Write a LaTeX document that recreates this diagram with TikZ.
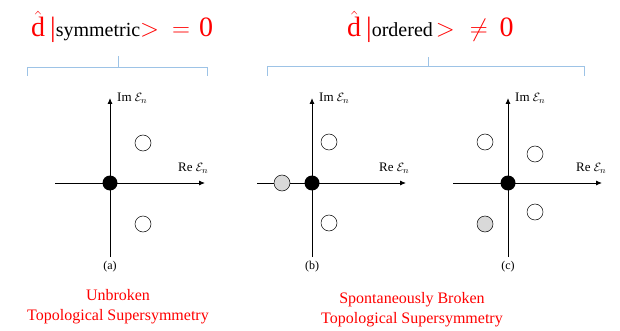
\documentclass[tikz,border=0pt]{standalone}
\usepackage{amsmath,amssymb}
\usepackage{fontspec}
\setmainfont{Liberation Serif}
\newfontfamily\statefamily{Liberation Serif}
\usetikzlibrary{arrows.meta,positioning}
\definecolor{bracketblue}{RGB}{157,195,230}
\definecolor{dotgray}{RGB}{217,217,217}
\newcommand{\statefont}{\statefamily\fontsize{20}{20}\selectfont\color{black}}

\begin{document}
\begin{tikzpicture}[x=1pt,y=-1pt,
    axis/.style={-{Latex[length=6pt,width=5pt]},line width=0.9pt},
    zero/.style={circle,fill=black,minimum size=15pt,inner sep=0pt},
    eigen/.style={circle,draw,line width=0.5pt,fill=white,minimum size=16pt,inner sep=0pt},
    shifted/.style={eigen,fill=dotgray},
    axlabel/.style={font=\fontsize{13}{13}\selectfont,inner sep=0pt,anchor=west},
    panel/.style={font=\fontsize{12}{12}\selectfont,inner sep=0pt},
    heading/.style={font=\fontsize{28}{28}\selectfont,text=red,inner sep=0pt,anchor=base west},
    caption/.style={font=\fontsize{16}{20}\selectfont,text=red,align=center}]
    \useasboundingbox (0,0) rectangle (620,331);

    % titles
    \node[heading] (title-a) at (31,37) {$\hat{\mathrm{d}}$\hspace{5pt}|{\statefont symmetric}$>$\hspace{13pt}$=$\hspace{9pt}0};
    \node[heading] (title-bc) at (347,37) {$\hat{\mathrm{d}}$\hspace{5pt}|{\statefont ordered}\hspace{3pt}$>$\hspace{15pt}$\neq$\hspace{12pt}0};

    % brackets
    \draw[bracketblue,line width=0.8pt] (27,76) -- (27,67) -- (207,67) -- (207,76);
    \draw[bracketblue,line width=0.8pt] (118,67) -- (118,56);
    \draw[bracketblue,line width=0.8pt] (267,76) -- (267,66) -- (584,66) -- (584,76);
    \draw[bracketblue,line width=0.8pt] (428,66) -- (428,57);

    % panel (a)
    \coordinate (a-bot) at (110,257);
    \coordinate (a-top) at (110,98);
    \coordinate (a-left) at (55,183);
    \coordinate (a-right) at (205,183);
    \draw[axis] (a-bot) -- (a-top);
    \draw[axis] (a-left) -- (a-right);
    \node[zero] (a-0) at (110,183) {};
    \node[eigen] (a-1) at (143,143) {};
    \node[eigen] (a-2) at (143,224) {};
    \node[axlabel] (a-im) at (117,98) {Im $\mathcal{E}_n$};
    \node[axlabel] (a-re) at (178,168) {Re $\mathcal{E}_n$};
    \node[panel] (a-name) at (110,267) {(a)};

    % panel (b)
    \coordinate (b-bot) at (312,257);
    \coordinate (b-top) at (312,98);
    \coordinate (b-left) at (257,183);
    \coordinate (b-right) at (406,183);
    \draw[axis] (b-bot) -- (b-top);
    \draw[axis] (b-left) -- (b-right);
    \node[zero] (b-0) at (312,183) {};
    \node[eigen] (b-1) at (329,142) {};
    \node[eigen] (b-2) at (329,223) {};
    \node[shifted] (b-3) at (282,183) {};
    \node[axlabel] (b-im) at (319,98) {Im $\mathcal{E}_n$};
    \node[axlabel] (b-re) at (379,168) {Re $\mathcal{E}_n$};
    \node[panel] (b-name) at (312,267) {(b)};

    % panel (c)
    \coordinate (c-bot) at (508,257);
    \coordinate (c-top) at (508,98);
    \coordinate (c-left) at (453,183);
    \coordinate (c-right) at (602,183);
    \draw[axis] (c-bot) -- (c-top);
    \draw[axis] (c-left) -- (c-right);
    \node[zero] (c-0) at (508,183) {};
    \node[eigen] (c-1) at (485,142) {};
    \node[eigen] (c-2) at (535,154) {};
    \node[eigen] (c-3) at (535,212) {};
    \node[shifted] (c-4) at (485,224) {};
    \node[axlabel] (c-im) at (515,98) {Im $\mathcal{E}_n$};
    \node[axlabel] (c-re) at (576,168) {Re $\mathcal{E}_n$};
    \node[panel] (c-name) at (508,267) {(c)};

    % captions
    \node[caption] (cap-a) at (118,307) {Unbroken\\Topological Supersymmetry};
    \node[caption] (cap-bc) at (412,310) {Spontaneously Broken\\Topological Supersymmetry};
\end{tikzpicture}
\end{document}
